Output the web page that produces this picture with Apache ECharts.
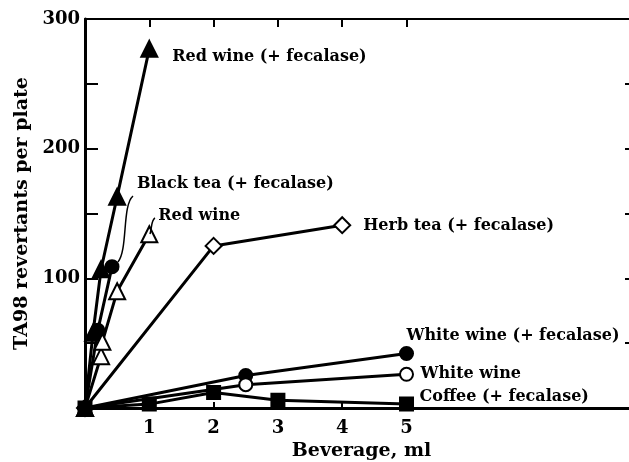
<!DOCTYPE html>
<html>
<head>
<meta charset="utf-8">
<script src="https://cdn.jsdelivr.net/npm/echarts@6/dist/echarts.min.js"></script>
<style>
  html, body { margin: 0; padding: 0; background: #fff; }
  #chart { width: 629px; height: 462px; }
</style>
</head>
<body>
<div id="chart"></div>
<script>
// data: [ml of beverage, revertants per plate]
var redWineFec   = [[0, 0], [0.125, 58], [0.25, 107], [0.5, 163], [1, 277]];
var blackTeaFec  = [[0, 0], [0.2, 60], [0.42, 109]];
var redWine      = [[0, 0], [0.25, 40], [0.27, 51], [0.5, 90], [1, 134]];
var herbTeaFec   = [[0, 0], [2, 125], [4, 141]];
var whiteWineFec = [[0, 0], [2.5, 25], [5, 42]];
var whiteWine    = [[0, 0], [2.5, 18], [5, 26]];
var coffeeFec    = [[0, 0], [1, 3], [2, 12], [3, 6], [5, 3]];

var xTicks = [1, 2, 3, 4, 5];
var yLabels = [0, 100, 200, 300];

var FONT = '"DejaVu Serif", serif';

// one line series; fill = true for solid markers
function makeSeries(name, data, symbol, fill, offset) {
	var size = 13;
	if (symbol == 'triangle' || symbol == 'diamond') {
		size = 16;
	}
	return {
		name: name,
		type: 'line',
		data: data,
		symbol: symbol,
		symbolSize: size,
		showAllSymbol: true,
		lineStyle: { color: '#000', width: 3 },
		itemStyle: {
			color: fill ? '#000' : '#fff',
			borderColor: '#000',
			borderWidth: 2
		},
		endLabel: {
			show: true,
			formatter: name,
			distance: 0,
			offset: offset,
			align: 'left',
			color: '#000',
			fontFamily: FONT,
			fontWeight: 'bold',
			fontSize: 16
		},
		z: 3
	};
}

var chart = echarts.init(document.getElementById('chart'));

var option = {
	animation: false,
	backgroundColor: '#fff',
	grid: { left: 85, top: 19, width: 553, height: 389, outerBoundsMode: 'none', containLabel: false },
	xAxis: [{
		type: 'value',
		min: 0,
		max: 8.6,
		position: 'bottom',
		name: 'Beverage, ml',
		nameLocation: 'middle',
		nameGap: 34,
		nameTextStyle: { color: '#000', fontFamily: FONT, fontWeight: 'bold', fontSize: 19 },
		axisLine: { onZero: false, lineStyle: { color: '#000', width: 3 } },
		axisTick: { inside: true, length: 6, lineStyle: { color: '#000', width: 2 }, customValues: xTicks },
		axisLabel: { color: '#000', fontFamily: FONT, fontWeight: 'bold', fontSize: 18, margin: 11, customValues: xTicks },
		splitLine: { show: false }
	}, {
		type: 'value',
		min: 0,
		max: 8.6,
		position: 'top',
		axisLine: { onZero: false, lineStyle: { color: '#000', width: 2 } },
		axisTick: { inside: true, length: 8, lineStyle: { color: '#000', width: 2 }, customValues: xTicks },
		axisLabel: { show: false },
		splitLine: { show: false }
	}],
	yAxis: [{
		type: 'value',
		min: 0,
		max: 300,
		interval: 50,
		position: 'left',
		name: 'TA98 revertants per plate',
		nameLocation: 'middle',
		nameRotate: 90,
		nameGap: 52,
		nameTextStyle: { color: '#000', fontFamily: FONT, fontWeight: 'bold', fontSize: 19 },
		axisLine: { onZero: false, lineStyle: { color: '#000', width: 3 } },
		axisTick: { inside: true, length: 13, lineStyle: { color: '#000', width: 2 } },
		axisLabel: {
			color: '#000', fontFamily: FONT, fontWeight: 'bold', fontSize: 18, margin: 5,
			customValues: yLabels,
			formatter: function (v) { return v == 0 ? '' : v; }
		},
		splitLine: { show: false }
	}, {
		type: 'value',
		min: 0,
		max: 300,
		interval: 50,
		position: 'right',
		axisLine: { onZero: false, show: false },
		axisTick: { inside: true, length: 13, lineStyle: { color: '#000', width: 2 } },
		axisLabel: { show: false },
		splitLine: { show: false }
	}],
	series: [
		makeSeries('Red wine (+ fecalase)', redWineFec, 'triangle', true, [23, 8]),
		makeSeries('Black tea (+ fecalase)', blackTeaFec, 'circle', true, [25, -83]),
		makeSeries('Red wine', redWine, 'triangle', false, [9, -18]),
		makeSeries('Herb tea (+ fecalase)', herbTeaFec, 'diamond', false, [21, 1]),
		makeSeries('White wine (+ fecalase)', whiteWineFec, 'circle', true, [0, -18]),
		makeSeries('White wine', whiteWine, 'circle', false, [14, 0]),
		makeSeries('Coffee (+ fecalase)', coffeeFec, 'rect', true, [13, -7])
	],
	// hand-drawn pointers from two labels to their curves
	graphic: [{
		type: 'bezierCurve',
		shape: { x1: 133, y1: 196, x2: 118, y2: 262, cpx1: 122, cpy1: 205, cpx2: 128, cpy2: 250 },
		style: { stroke: '#000', lineWidth: 1.5, fill: null },
		z: 10
	}, {
		type: 'bezierCurve',
		shape: { x1: 150, y1: 234, x2: 155, y2: 218, cpx1: 152, cpy1: 228, cpx2: 151, cpy2: 220 },
		style: { stroke: '#000', lineWidth: 1.5, fill: null },
		z: 10
	}]
};

chart.setOption(option);
</script>
</body>
</html>
